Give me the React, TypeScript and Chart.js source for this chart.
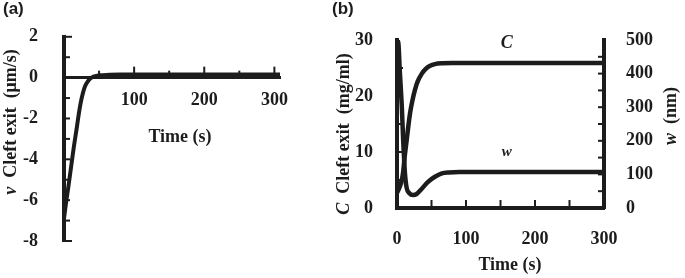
import React, { useEffect, useRef } from 'react';
import { Chart, registerables } from 'chart.js';
Chart.register(...registerables);

const INK = '#1c1c1c';
const SERIF = '"Liberation Serif", "Times New Roman", serif';
const SANS = '"Liberation Sans", Arial, sans-serif';

// Panel (a): v at cleft exit (µm/s) vs time (s)
const A_TIME = [0, 3, 6, 10, 14, 18, 21, 24, 27, 30, 34, 38, 42, 48, 55, 65, 80, 100, 150, 200, 250, 300, 308];
const A_V = [-6.9, -6.1, -5.4, -4.4, -3.4, -2.5, -1.8, -1.2, -0.75, -0.42, -0.18, -0.03, 0.05, 0.1, 0.12, 0.14, 0.15, 0.15, 0.15, 0.15, 0.15, 0.15, 0.15];
const A_X_LABELS = [100, 200, 300];
const A_X_MARKS = [50, 100, 150, 200, 250, 300];
const A_Y_MARKS = [-8, -7, -6, -5, -4, -3, -2, -1, 1, 2];

// Panel (b): C at cleft exit (mg/ml) and w (nm) vs time (s)
const B_TIME_C = [0, 4, 7, 9, 11, 14, 17, 19, 22, 26, 30, 36, 42, 48, 55, 65, 80, 100, 150, 200, 250, 300];
const B_C = [2.7, 3.8, 5, 6.5, 9, 12.1, 15.2, 17, 19, 21.1, 22.6, 24, 24.9, 25.4, 25.7, 25.85, 25.9, 25.9, 25.9, 25.9, 25.9, 25.9];
const B_TIME_W = [0, 2, 4, 7, 9, 11.5, 14, 18, 23, 28, 35, 45, 55, 65, 75, 90, 150, 200, 250, 300];
const B_W = [500, 490, 410, 300, 200, 104, 60, 44, 39, 41, 55, 78, 93, 103, 106, 107, 107, 107, 107, 107];
const B_X_LABELS = [0, 100, 200, 300];
const B_X_MARKS = [50, 100, 150, 200, 250];
const B_L_MARKS = [5, 10, 15, 20, 25];
const B_R_MARKS = [50, 100, 150, 200, 250, 300, 350, 400, 450];

type Seg = { text: string; italic?: boolean };

function drawRich(ctx: CanvasRenderingContext2D, segs: Seg[], cx: number, cy: number, rot: number, size: number) {
  ctx.save();
  ctx.translate(cx, cy);
  ctx.rotate(rot);
  const fonts = segs.map((s) => `${s.italic ? 'italic ' : ''}bold ${size}px ${SERIF}`);
  let total = 0;
  const widths = segs.map((s, i) => {
    ctx.font = fonts[i];
    const w = ctx.measureText(s.text).width;
    total += w;
    return w;
  });
  let x = -total / 2;
  ctx.textBaseline = 'middle';
  ctx.textAlign = 'left';
  ctx.fillStyle = INK;
  segs.forEach((s, i) => {
    ctx.font = fonts[i];
    ctx.fillText(s.text, x, 0);
    x += widths[i];
  });
  ctx.restore();
}

function line(ctx: CanvasRenderingContext2D, x1: number, y1: number, x2: number, y2: number) {
  ctx.beginPath();
  ctx.moveTo(x1, y1);
  ctx.lineTo(x2, y2);
  ctx.stroke();
}

const tickFont = { family: SERIF, size: 18, weight: 'bold' as const };

const decorA = {
  id: 'decorA',
  afterDraw(chart: any) {
    const { ctx, chartArea } = chart;
    const xs = chart.scales.x;
    const ys = chart.scales.y;
    const y0 = ys.getPixelForValue(0);
    ctx.save();
    ctx.strokeStyle = INK;
    ctx.lineWidth = 2;
    A_X_MARKS.forEach((v) => {
      const px = xs.getPixelForValue(v);
      line(ctx, px, y0, px, y0 - (v % 100 === 0 ? 11 : 7));
    });
    A_Y_MARKS.forEach((v) => {
      const py = ys.getPixelForValue(v);
      const len = v === 2 || v === -8 ? 8 : 6;
      line(ctx, chartArea.left, py, chartArea.left + len, py);
    });
    ctx.restore();
    drawRich(ctx, [{ text: 'v', italic: true }, { text: '  Cleft exit  (μm/s)' }], 11, 122, -Math.PI / 2, 18);
    drawRich(ctx, [{ text: 'Time (s)' }], 180, 137, 0, 18);
  },
};

const decorB = {
  id: 'decorB',
  afterDraw(chart: any) {
    const { ctx, chartArea } = chart;
    const xs = chart.scales.x;
    const yl = chart.scales.y;
    const yr = chart.scales.y1;
    ctx.save();
    ctx.strokeStyle = INK;
    ctx.lineWidth = 2;
    B_X_MARKS.forEach((v) => {
      const px = xs.getPixelForValue(v);
      line(ctx, px, chartArea.bottom, px, chartArea.bottom - 8);
    });
    B_L_MARKS.forEach((v) => {
      const py = yl.getPixelForValue(v);
      line(ctx, chartArea.left, py, chartArea.left + 6, py);
    });
    B_R_MARKS.forEach((v) => {
      const py = yr.getPixelForValue(v);
      line(ctx, chartArea.right, py, chartArea.right - 6, py);
    });
    ctx.restore();
    drawRich(ctx, [{ text: 'C', italic: true }], xs.getPixelForValue(159), yl.getPixelForValue(29.4), 0, 18);
    drawRich(ctx, [{ text: 'w', italic: true }], xs.getPixelForValue(159), yr.getPixelForValue(167), 0, 15);
    drawRich(ctx, [{ text: 'C', italic: true }, { text: '  Cleft exit  (mg/ml)' }], 9, 134, -Math.PI / 2, 18);
    drawRich(ctx, [{ text: 'w', italic: true }, { text: '  (nm)' }], 336, 116, -Math.PI / 2, 18);
    drawRich(ctx, [{ text: 'Time (s)' }], 175, 265, 0, 18);
  },
};

function PanelA() {
  const ref = useRef<HTMLCanvasElement>(null);
  useEffect(() => {
    const chart = new Chart(ref.current!, {
      type: 'line',
      data: {
        datasets: [
          {
            data: A_TIME.map((t, i) => ({ x: t, y: A_V[i] })),
            borderColor: INK,
            borderWidth: 4,
            pointRadius: 0,
            cubicInterpolationMode: 'monotone',
            fill: false,
          },
        ],
      },
      options: {
        responsive: false,
        animation: false,
        devicePixelRatio: 1,
        layout: { padding: { left: 0, top: 31, right: 55, bottom: 37 } },
        plugins: { legend: { display: false }, tooltip: { enabled: false } },
        scales: {
          x: {
            type: 'linear',
            min: 0,
            max: 308,
            position: { y: 0 } as any,
            grid: { display: false, drawTicks: false },
            border: { display: true, color: INK, width: 3 },
            ticks: {
              stepSize: 50,
              includeBounds: false,
              autoSkip: false,
              maxRotation: 0,
              padding: 12,
              color: INK,
              font: tickFont,
              callback: (v: any) => (A_X_LABELS.includes(Number(v)) ? String(v) : ''),
            },
          },
          y: {
            type: 'linear',
            min: -8,
            max: 2,
            position: 'left',
            afterFit: (s: any) => {
              s.width = 64;
            },
            grid: { display: false, drawTicks: false },
            border: { display: true, color: INK, width: 4 },
            ticks: { stepSize: 2, padding: 26, color: INK, font: tickFont },
          },
        },
      } as any,
      plugins: [decorA],
    });
    return () => chart.destroy();
  }, []);
  return <canvas ref={ref} width={335} height={278} style={{ position: 'absolute', left: 0, top: 0 }} />;
}

function PanelB() {
  const ref = useRef<HTMLCanvasElement>(null);
  useEffect(() => {
    const chart = new Chart(ref.current!, {
      type: 'line',
      data: {
        datasets: [
          {
            data: B_TIME_C.map((t, i) => ({ x: t, y: B_C[i] })),
            yAxisID: 'y',
            borderColor: INK,
            borderWidth: 4.5,
            pointRadius: 0,
            cubicInterpolationMode: 'monotone',
            fill: false,
          },
          {
            data: B_TIME_W.map((t, i) => ({ x: t, y: B_W[i] })),
            yAxisID: 'y1',
            borderColor: INK,
            borderWidth: 4.5,
            pointRadius: 0,
            cubicInterpolationMode: 'monotone',
            fill: false,
          },
        ],
      },
      options: {
        responsive: false,
        animation: false,
        devicePixelRatio: 1,
        layout: { padding: { left: 0, top: 40, right: 0, bottom: 0 } },
        plugins: { legend: { display: false }, tooltip: { enabled: false } },
        scales: {
          x: {
            type: 'linear',
            min: 0,
            max: 300,
            position: 'bottom',
            afterFit: (s: any) => {
              s.height = 70;
            },
            grid: { display: false, drawTicks: false },
            border: { display: true, color: INK, width: 4 },
            ticks: {
              stepSize: 50,
              autoSkip: false,
              maxRotation: 0,
              padding: 21,
              color: INK,
              font: tickFont,
              callback: (v: any) => (B_X_LABELS.includes(Number(v)) ? String(v) : ''),
            },
          },
          y: {
            type: 'linear',
            min: 0,
            max: 30,
            position: 'left',
            afterFit: (s: any) => {
              s.width = 62;
            },
            grid: { display: false, drawTicks: false },
            border: { display: true, color: INK, width: 4 },
            ticks: { stepSize: 10, padding: 24, color: INK, font: tickFont },
          },
          y1: {
            type: 'linear',
            min: 0,
            max: 500,
            position: 'right',
            afterFit: (s: any) => {
              s.width = 81;
            },
            grid: { display: false, drawTicks: false },
            border: { display: true, color: INK, width: 4 },
            ticks: { stepSize: 100, padding: 22, color: INK, font: tickFont },
          },
        },
      } as any,
      plugins: [decorB],
    });
    return () => chart.destroy();
  }, []);
  return <canvas ref={ref} width={350} height={278} style={{ position: 'absolute', left: 335, top: 0 }} />;
}

export default function App() {
  const label: React.CSSProperties = {
    position: 'absolute',
    top: -1,
    fontFamily: SANS,
    fontWeight: 'bold',
    fontSize: 17,
    color: INK,
    lineHeight: '20px',
  };
  return (
    <div style={{ position: 'absolute', left: 0, top: 0, width: 685, height: 278, background: '#fff', overflow: 'hidden' }}>
      <PanelA />
      <PanelB />
      <div style={{ ...label, left: 3 }}>(a)</div>
      <div style={{ ...label, left: 332 }}>(b)</div>
    </div>
  );
}
